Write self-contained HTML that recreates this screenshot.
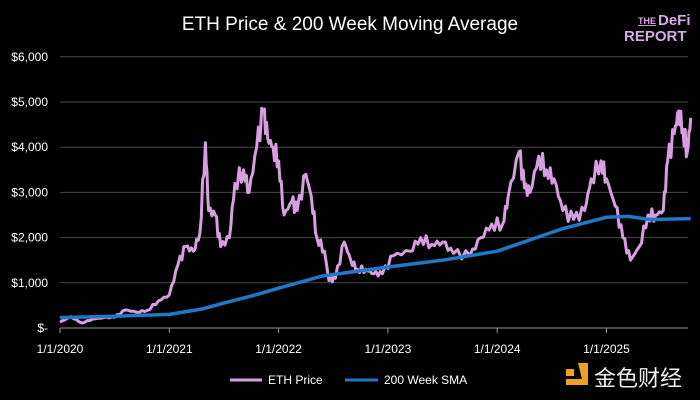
<!DOCTYPE html>
<html><head><meta charset="utf-8"><style>
body{margin:0;background:#000;width:700px;height:400px;overflow:hidden;font-family:"Liberation Sans",sans-serif}
</style></head><body>
<svg id="s" width="700" height="400" xmlns="http://www.w3.org/2000/svg" style="position:absolute;left:0;top:0">
<rect width="700" height="400" fill="#000"/>
<text x="350" y="30" fill="#fff" font-size="19" text-anchor="middle" font-family="Liberation Sans, sans-serif">ETH Price &amp; 200 Week Moving Average</text>
<g font-family="Liberation Sans, sans-serif" font-weight="bold">
<text x="656" y="24" fill="#d9a8e6" font-size="9" text-anchor="end" text-decoration="underline">THE</text>
<text x="658" y="25" fill="#d9a8e6" font-size="15">DeFi</text>
<text x="624" y="41" fill="#d9a8e6" font-size="15">REPORT</text>
</g>
<g id="grid" stroke="#4a4a4a" stroke-width="1"></g>
<g id="ylab" fill="#fff" font-size="12" text-anchor="end" font-family="Liberation Sans, sans-serif"></g>
<g id="xlab" fill="#fff" font-size="12" text-anchor="middle" font-family="Liberation Sans, sans-serif"></g>
<line x1="60" y1="328" x2="688" y2="328" stroke="#999" stroke-width="1"/>
<polyline id="eth" fill="none" stroke="#d79fe0" stroke-width="3" stroke-linejoin="round"/>
<polyline id="sma" fill="none" stroke="#1f78c8" stroke-width="3.5" stroke-linejoin="round"/>
<line x1="230" y1="380" x2="262" y2="380" stroke="#d79fe0" stroke-width="3"/>
<text x="268" y="384" fill="#fff" font-size="12" font-family="Liberation Sans, sans-serif">ETH Price</text>
<line x1="345" y1="380" x2="378" y2="380" stroke="#1f78c8" stroke-width="3"/>
<text x="384" y="384" fill="#fff" font-size="12" font-family="Liberation Sans, sans-serif">200 Week SMA</text>
<rect x="566" y="369" width="8" height="7" fill="#f0a020"/>
<path d="M578 363h10v22h-22v-6h16z" fill="#f0a020"/>
<text x="594" y="386" fill="#eee" font-size="22" font-family="Liberation Sans, Noto Sans CJK SC, sans-serif">金色财经</text>
</svg>
<script>
var X=t=>60+109.3*t, Y=p=>328-0.0452*p;
var g=document.getElementById('grid'),yl=document.getElementById('ylab'),xl=document.getElementById('xlab'),ns="http://www.w3.org/2000/svg";
var labs=["$-","$1,000","$2,000","$3,000","$4,000","$5,000","$6,000"];
for(var i=0;i<7;i++){var y=Y(i*1000);if(i>0){var l=document.createElementNS(ns,'line');l.setAttribute('x1',60);l.setAttribute('x2',688);l.setAttribute('y1',y);l.setAttribute('y2',y);g.appendChild(l);}
var t=document.createElementNS(ns,'text');t.setAttribute('x',48);t.setAttribute('y',y+4);t.textContent=labs[i];yl.appendChild(t);}
for(var k=0;k<6;k++){var x=X(k);var l=document.createElementNS(ns,'line');l.setAttribute('x1',x);l.setAttribute('x2',x);l.setAttribute('y1',328);l.setAttribute('y2',333);l.setAttribute('stroke','#999');g.appendChild(l);
var t=document.createElementNS(ns,'text');t.setAttribute('x',x);t.setAttribute('y',353);t.textContent='1/1/'+(2020+k);xl.appendChild(t);}
var e=[[0,130],[.1,250],[.2,110],[.3,200],[.4,230],[.5,240],[.6,400],[.7,350],[.8,390],[.9,600],[1,730],[1.08,1400],[1.15,1800],[1.22,1700],[1.28,2100],[1.33,4100],[1.36,2600],[1.42,2500],[1.47,1800],[1.55,2000],[1.6,3200],[1.68,3500],[1.73,3000],[1.8,4000],[1.86,4800],[1.9,4200],[1.95,4000],[2,3700],[2.05,2500],[2.12,2800],[2.17,2600],[2.25,3400],[2.3,2900],[2.35,2000],[2.42,1700],[2.46,1050],[2.52,1100],[2.6,1900],[2.66,1500],[2.72,1300],[2.8,1300],[2.87,1200],[2.95,1200],[3.05,1600],[3.2,1700],[3.3,2000],[3.4,1850],[3.5,1900],[3.6,1650],[3.75,1600],[3.85,2000],[3.95,2300],[4.05,2300],[4.1,2900],[4.2,3900],[4.25,3100],[4.3,3000],[4.38,3800],[4.45,3500],[4.52,3300],[4.6,2600],[4.7,2400],[4.8,2600],[4.86,3300],[4.95,3700],[5,3300],[5.08,2700],[5.15,2000],[5.22,1500],[5.3,1800],[5.38,2500],[5.45,2500],[5.52,2600],[5.56,3700],[5.62,4300],[5.66,4800],[5.7,4400],[5.74,3900],[5.77,4650]];
var s=[[0,230],[.5,260],[1,300],[1.3,420],[1.5,550],[1.8,740],[2,880],[2.4,1150],[3,1350],[3.5,1500],[4,1700],[4.3,1950],[4.6,2200],[5,2450],[5.2,2470],[5.4,2400],[5.77,2420]];
function pts(a,j){var o=[];for(var i=0;i<a.length-1;i++){var n=j?4:1;for(var q=0;q<n;q++){var f=q/n,t=a[i][0]+(a[i+1][0]-a[i][0])*f,p=a[i][1]+(a[i+1][1]-a[i][1])*f;if(j&&q>0)p*=1+0.06*Math.sin(i*7.3+q*3.1);o.push(X(t).toFixed(1)+','+Y(p).toFixed(1));}}var z=a[a.length-1];o.push(X(z[0]).toFixed(1)+','+Y(z[1]).toFixed(1));return o.join(' ');}
document.getElementById('eth').setAttribute('points',pts(e,1));
document.getElementById('sma').setAttribute('points',pts(s,0));
</script>
</body></html>
